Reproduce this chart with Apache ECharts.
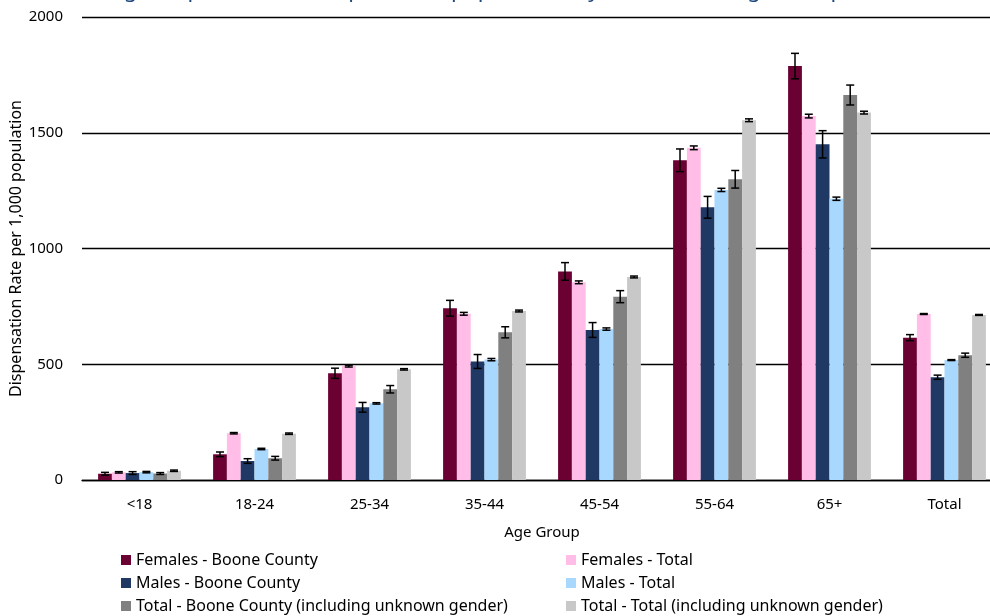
<!DOCTYPE html>
<html>
<head>
<meta charset="utf-8">
<script src="https://cdn.jsdelivr.net/npm/echarts@6/dist/echarts.min.js"></script>
<style>
html, body { margin: 0; padding: 0; background: #fff; }
#chart { width: 990px; height: 616px; }
</style>
</head>
<body>
<div id="chart"></div>
<script>
// 年龄组
var ageGroups = ['<18', '18-24', '25-34', '35-44', '45-54', '55-64', '65+', 'Total'];
var yTicks = [0, 500, 1000, 1500, 2000];

// 各系列数值及误差(±)
var femalesBoone = [27, 111, 461, 742, 901, 1381, 1788, 615];
var femalesBooneErr = [6, 10, 22, 34, 38, 49, 55, 13];
var femalesTotal = [33, 202, 492, 718, 854, 1435, 1572, 717];
var femalesTotalErr = [3, 3, 4, 6, 6, 8, 8, 2];
var malesBoone = [30, 82, 314, 512, 648, 1178, 1450, 444];
var malesBooneErr = [6, 10, 21, 30, 32, 47, 59, 9];
var malesTotal = [34, 134, 331, 520, 652, 1253, 1215, 518];
var malesTotalErr = [3, 3, 3, 5, 5, 7, 7, 2];
var totalBoone = [28, 94, 392, 638, 792, 1299, 1663, 539];
var totalBooneErr = [4, 8, 16, 24, 26, 38, 43, 9];
var totalTotal = [40, 200, 478, 730, 877, 1554, 1587, 713];
var totalTotalErr = [3, 3, 3, 4, 4, 6, 6, 2];

var seriesNames = [
    'Females - Boone County', 'Females - Total',
    'Males - Boone County', 'Males - Total',
    'Total - Boone County (including unknown gender)', 'Total - Total (including unknown gender)'
];
var seriesValues = [femalesBoone, femalesTotal, malesBoone, malesTotal, totalBoone, totalTotal];
var seriesErrs = [femalesBooneErr, femalesTotalErr, malesBooneErr, malesTotalErr, totalBooneErr, totalTotalErr];
var colors = ['#6B0033', '#FFBDE8', '#1F3864', '#A9D8FF', '#808080', '#C8C8C8'];

var CAT_GAP = 0.28;
var FONT = 'Noto Sans';

var myChart = echarts.init(document.getElementById('chart'));

/*误差线*/
function errorSeries(idx, values, errs) {
    return {
        type: 'custom',
        name: 'err' + idx,
        z: 10,
        silent: true,
        data: values.map(function (v, i) { return [i, v - errs[i], v + errs[i]]; }),
        encode: { x: 0, y: [1, 2] },
        renderItem: function (params, api) {
            var cat = api.value(0);
            var lo = api.coord([cat, api.value(1)]);
            var hi = api.coord([cat, api.value(2)]);
            var band = api.size([1, 0])[0];
            var barW = band * (1 - CAT_GAP) / seriesNames.length;
            var x = lo[0] + (idx - (seriesNames.length - 1) / 2) * barW;
            var cap = 4;
            var st = { stroke: '#000', lineWidth: 1.5 };
            return {
                type: 'group',
                children: [
                    { type: 'line', shape: { x1: x, y1: hi[1], x2: x, y2: lo[1] }, style: st },
                    { type: 'line', shape: { x1: x - cap, y1: hi[1], x2: x + cap, y2: hi[1] }, style: st },
                    { type: 'line', shape: { x1: x - cap, y1: lo[1], x2: x + cap, y2: lo[1] }, style: st }
                ]
            };
        }
    };
}

var series = [];
seriesNames.forEach(function (name, i) {
    series.push({
        name: name,
        type: 'bar',
        data: seriesValues[i],
        itemStyle: { color: colors[i] },
        barGap: '0%',
        barCategoryGap: (CAT_GAP * 100) + '%'
    });
});
seriesNames.forEach(function (name, i) {
    series.push(errorSeries(i, seriesValues[i], seriesErrs[i]));
});

var legendText = { color: '#000', fontSize: 16, fontFamily: FONT, lineHeight: 16 };

myChart.setOption({
    animation: false,
    color: colors,
    textStyle: { fontFamily: FONT },
    title: {
        text: 'Average Dispensation Rate per 1,000 population, by Gender and Age Group',
        left: 60,
        top: -25,
        textStyle: { color: '#1F497D', fontSize: 22, fontWeight: 'normal', fontFamily: FONT }
    },
    grid: { left: 82, right: -12, top: 17, bottom: 136, containLabel: false, outerBoundsMode: 'none' },
    legend: [
        {
            left: 116, top: 547, height: 90, orient: 'vertical', itemGap: 7,
            itemWidth: 10, itemHeight: 10, icon: 'rect',
            data: [seriesNames[0], seriesNames[2], seriesNames[4]],
            textStyle: legendText
        },
        {
            left: 561, top: 547, height: 90, orient: 'vertical', itemGap: 7,
            itemWidth: 10, itemHeight: 10, icon: 'rect',
            data: [seriesNames[1], seriesNames[3], seriesNames[5]],
            textStyle: legendText
        }
    ],
    xAxis: {
        type: 'category',
        data: ageGroups,
        name: 'Age Group',
        nameLocation: 'middle',
        nameGap: 45,
        nameTextStyle: { color: '#000', fontSize: 15, fontFamily: FONT },
        axisLine: { lineStyle: { color: '#000', width: 1.3 } },
        axisTick: { show: false },
        axisLabel: { color: '#000', fontSize: 15, margin: 17, fontFamily: FONT }
    },
    yAxis: {
        type: 'value',
        min: yTicks[0],
        max: yTicks[yTicks.length - 1],
        interval: 500,
        name: 'Dispensation Rate per 1,000 population',
        nameLocation: 'middle',
        nameGap: 58,
        nameMoveOverlap: false,
        nameTextStyle: { color: '#000', fontSize: 16, fontFamily: FONT },
        axisLine: { show: false },
        axisTick: { show: false },
        axisLabel: {
            color: '#000', fontSize: 15, margin: 19, fontFamily: FONT,
            formatter: function (val) { return String(val); }
        },
        splitLine: { lineStyle: { color: '#000', width: 1.3 } }
    },
    series: series
});
</script>
</body>
</html>
